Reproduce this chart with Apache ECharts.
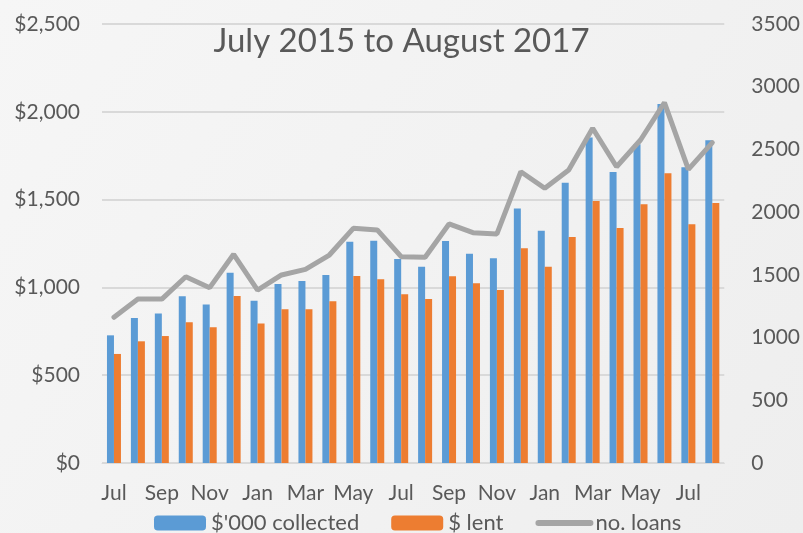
<!DOCTYPE html>
<html>
<head>
<meta charset="utf-8">
<script src="https://cdn.jsdelivr.net/npm/echarts@6/dist/echarts.min.js"></script>
<style>
  html, body { margin: 0; padding: 0; }
  .chart { width: 803px; height: 533px; }
</style>
</head>
<body>
<div class="chart"></div>
<script>
// 月份 Jul 2015 - Aug 2017
var months = ["Jul", "Aug", "Sep", "Oct", "Nov", "Dec", "Jan", "Feb", "Mar", "Apr", "May", "Jun",
    "Jul", "Aug", "Sep", "Oct", "Nov", "Dec", "Jan", "Feb", "Mar", "Apr", "May", "Jun", "Jul", "Aug"];
var collected = [727, 826, 852, 949, 902, 1084, 924, 1019, 1036, 1071, 1260, 1266,
    1162, 1118, 1264, 1192, 1166, 1450, 1323, 1596, 1853, 1657, 1815, 2044, 1684, 1838];
var lent = [621, 693, 723, 801, 773, 951, 795, 875, 875, 921, 1065, 1046,
    961, 934, 1063, 1023, 985, 1223, 1118, 1287, 1492, 1338, 1473, 1650, 1359, 1481];
var loans = [1162, 1307, 1307, 1485, 1398, 1664, 1379, 1499, 1544, 1658, 1871, 1858,
    1645, 1640, 1906, 1836, 1826, 2322, 2190, 2336, 2669, 2362, 2575, 2873, 2341, 2554];

var textColor = "#595959";
var font = "Lato";

var myChart = echarts.init(document.querySelector(".chart"));
var option = {
    backgroundColor: new echarts.graphic.LinearGradient(0, 0, 1, 1, [
        { offset: 0, color: "#f6f6f6" },
        { offset: 1, color: "#eeeeee" }
    ]),
    animation: false,
    title: {
        text: "July 2015 to August 2017",
        left: "center",
        top: 20,
        textStyle: { color: textColor, fontSize: 33, fontWeight: "normal", fontFamily: font }
    },
    legend: {
        top: 507,
        left: 149,
        itemGap: 32,
        itemWidth: 52,
        itemHeight: 15,
        textStyle: { color: textColor, fontSize: 22, fontFamily: font },
        data: [
            "$'000 collected",
            "$ lent",
            { name: "no. loans", itemStyle: { opacity: 0 }, lineStyle: { width: 6 } }
        ]
    },
    grid: { left: 102, right: 76, top: 24, bottom: 70 },
    xAxis: {
        type: "category",
        data: months,
        axisLine: { lineStyle: { color: "#d9d9d9", width: 1 } },
        axisTick: { show: false },
        axisLabel: { interval: 1, color: textColor, fontSize: 21, fontFamily: font, margin: 20 }
    },
    yAxis: [{
        type: "value",
        min: 0,
        max: 2500,
        interval: 500,
        axisLabel: {
            color: textColor, fontSize: 21, fontFamily: font, margin: 22,
            formatter: function (v) { return "$" + v.toLocaleString("en-US"); }
        },
        splitLine: { lineStyle: { color: "#d9d9d9", width: 2 } }
    }, {
        type: "value",
        min: 0,
        max: 3500,
        interval: 500,
        axisLabel: { color: textColor, fontSize: 21, fontFamily: font, margin: 27,
            formatter: function (v) { return String(v); } },
        splitLine: { show: false }
    }],
    series: [{
        name: "$'000 collected",
        type: "bar",
        data: collected,
        barWidth: 7,
        barGap: "0%",
        itemStyle: { color: "#5B9BD5" }
    }, {
        name: "$ lent",
        type: "bar",
        data: lent,
        barWidth: 7,
        itemStyle: { color: "#ED7D31" }
    }, {
        name: "no. loans",
        type: "line",
        yAxisIndex: 1,
        data: loans,
        symbol: "none",
        lineStyle: { color: "#A5A5A5", width: 5, cap: "round" },
        itemStyle: { color: "#A5A5A5" }
    }]
};
myChart.setOption(option);
</script>
</body>
</html>
